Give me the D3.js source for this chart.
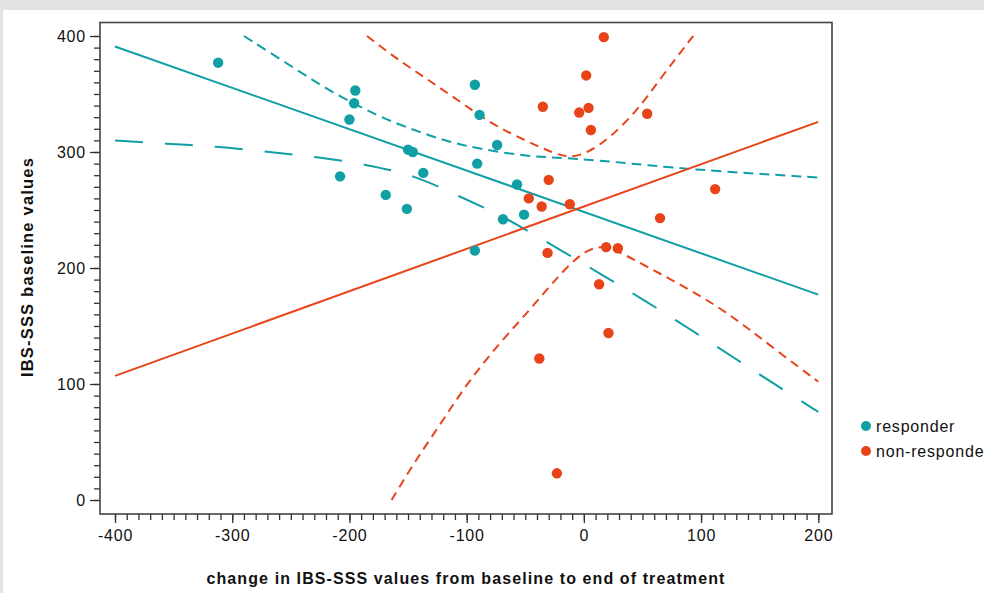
<!DOCTYPE html>
<html lang="en">
<head>
    <meta charset="UTF-8">
    <title>IBS-SSS baseline vs change</title>
    <script src="https://cdn.jsdelivr.net/npm/d3@7"></script>
    <style>
        body { margin: 0; background: #e3e3e3; }
        svg { display: block; }
        text { font-family: "Liberation Sans", Arial, sans-serif; fill: #111; }
    </style>
</head>
<body>
<svg width="984" height="593" id="my-svg"></svg>
<script>
    // points
    let responderX = [-312, -195, -196, -200, -208, -169, -151, -150, -146, -137, -93, -89, -91, -74, -57, -69, -51, -93];
    let responderY = [377, 353, 342, 328, 279, 263, 251, 302, 300, 282, 358, 332, 290, 306, 272, 242, 246, 215];
    let nonResponderX = [17, 2, -35, -4, 4, 6, 54, -30, -47, -36, -12, 112, 65, 19, 29, -31, 13, 21, -38, -23];
    let nonResponderY = [399, 366, 339, 334, 338, 319, 333, 276, 260, 253, 255, 268, 243, 218, 217, 213, 186, 144, 122, 23];

    // fitted lines (end points)
    let fitX = [-400, 200];
    let responderFit = [391, 177];
    let nonResponderFit = [107, 326];

    // bands, [x, y]
    let responderUpper = [[-290, 400], [-245, 371], [-216, 352], [-174, 330], [-145, 319], [-117, 309], [-86, 302],
        [-46, 296], [-17, 295], [22, 292], [88, 285], [200, 278]];
    let responderLower = [[-400, 310], [-356, 307], [-314, 305], [-270, 300], [-228, 296], [-185, 289], [-144, 280],
        [-105, 261], [-74, 247], [-53, 235], [-24, 218], [14, 195], [52, 172], [91, 147], [129, 122], [167, 97], [200, 76]];
    let nonResponderUpper = [[-185, 400], [-162, 382], [-134, 363], [-105, 343], [-77, 323], [-48, 309], [-26, 299],
        [-12, 295], [3, 299], [22, 312], [45, 335], [65, 363], [94, 401]];
    let nonResponderLower = [[-164, 0], [-145, 32], [-122, 66], [-100, 100], [-74, 133], [-46, 164], [-22, 193],
        [-3, 212], [11, 219], [25, 217], [54, 201], [82, 186], [111, 169], [139, 149], [168, 126], [200, 102]];

    let xTicks = [-400, -300, -200, -100, 0, 100, 200];
    let yTicks = [0, 100, 200, 300, 400];
    let legendLabels = ["responder", "non-responder"];

    let teal = "#0f9fa5";
    let orange = "#e8441a";

    let svg = d3.select("#my-svg");

    // white panel
    svg.append("rect").attr("x", 3).attr("y", 10).attr("width", 981).attr("height", 583).attr("fill", "#fff");

    let x = d3.scaleLinear().domain([-400, 200]).range([115, 818.3]);
    let y = d3.scaleLinear().domain([0, 400]).range([500, 36]);

    // minor ticks every 10
    let xMinor = d3.range(-400, 201, 10);
    let yMinor = d3.range(0, 401, 10);
    let plain = d => String(d);

    let xAxis = svg.append("g").attr("transform", "translate(0,514)")
        .call(d3.axisBottom(x).tickValues(xMinor).tickSize(6).tickFormat(""));
    xAxis.select(".domain").remove();
    let xAxisMajor = svg.append("g").attr("transform", "translate(0,514)")
        .call(d3.axisBottom(x).tickValues(xTicks).tickSize(9).tickPadding(7).tickFormat(plain));
    xAxisMajor.select(".domain").remove();
    xAxisMajor.selectAll("text").style("font-size", "16px").style("letter-spacing", "0.8px").style("fill", "#111");

    let yAxis = svg.append("g").attr("transform", "translate(100,0)")
        .call(d3.axisLeft(y).tickValues(yMinor).tickSize(6).tickFormat(""));
    yAxis.select(".domain").remove();
    let yAxisMajor = svg.append("g").attr("transform", "translate(100,0)")
        .call(d3.axisLeft(y).tickValues(yTicks).tickSize(10).tickPadding(4).tickFormat(plain));
    yAxisMajor.select(".domain").remove();
    yAxisMajor.selectAll("text").style("font-size", "16px").style("letter-spacing", "0.8px").style("fill", "#111");
    svg.selectAll(".tick line").attr("stroke", "#333").attr("stroke-width", 1.3);

    // box
    svg.append("rect").attr("x", 100).attr("y", 22.5).attr("width", 732).attr("height", 491.5)
        .attr("fill", "none").attr("stroke", "#444").attr("stroke-width", 1.6);

    let curve = d3.line().x(d => x(d[0])).y(d => y(d[1])).curve(d3.curveBasis);

    function band(data, color, dash) {
        svg.append("path")
            .attr("d", curve(data))
            .attr("fill", "none")
            .attr("stroke", color)
            .attr("stroke-width", 2)
            .attr("stroke-dasharray", dash);
    }
    band(responderUpper, teal, "10,6");
    band(responderLower, teal, "28,22");
    band(nonResponderUpper, orange, "9,6");
    band(nonResponderLower, orange, "9,6");

    let straight = d3.line().x(d => x(d[0])).y(d => y(d[1]));
    svg.append("path").attr("d", straight(d3.zip(fitX, responderFit)))
        .attr("fill", "none").attr("stroke", teal).attr("stroke-width", 2);
    svg.append("path").attr("d", straight(d3.zip(fitX, nonResponderFit)))
        .attr("fill", "none").attr("stroke", orange).attr("stroke-width", 2);

    // points
    svg.append("g").selectAll("circle").data(d3.zip(responderX, responderY)).join("circle")
        .attr("cx", d => x(d[0])).attr("cy", d => y(d[1])).attr("r", 5.2).attr("fill", teal);
    svg.append("g").selectAll("circle").data(d3.zip(nonResponderX, nonResponderY)).join("circle")
        .attr("cx", d => x(d[0])).attr("cy", d => y(d[1])).attr("r", 5.2).attr("fill", orange);

    // axis titles
    svg.append("text").attr("x", 466).attr("y", 584).attr("text-anchor", "middle")
        .style("font-size", "16px").style("font-weight", "bold").style("letter-spacing", "1.1px")
        .text("change in IBS-SSS values from baseline to end of treatment");
    svg.append("text").attr("transform", "translate(33,267) rotate(-90)").attr("text-anchor", "middle")
        .style("font-size", "16.5px").style("font-weight", "bold").style("letter-spacing", "1.2px")
        .text("IBS-SSS baseline values");

    // legend
    let legend = svg.append("g").selectAll("g").data(legendLabels).join("g")
        .attr("transform", (d, i) => `translate(866,${426 + i * 25})`);
    legend.append("circle").attr("r", 5).attr("fill", (d, i) => i === 0 ? teal : orange);
    legend.append("text").attr("x", 10).attr("y", 5.5).style("font-size", "16px").style("letter-spacing", "0.8px")
        .text(d => d);
</script>
</body>
</html>
